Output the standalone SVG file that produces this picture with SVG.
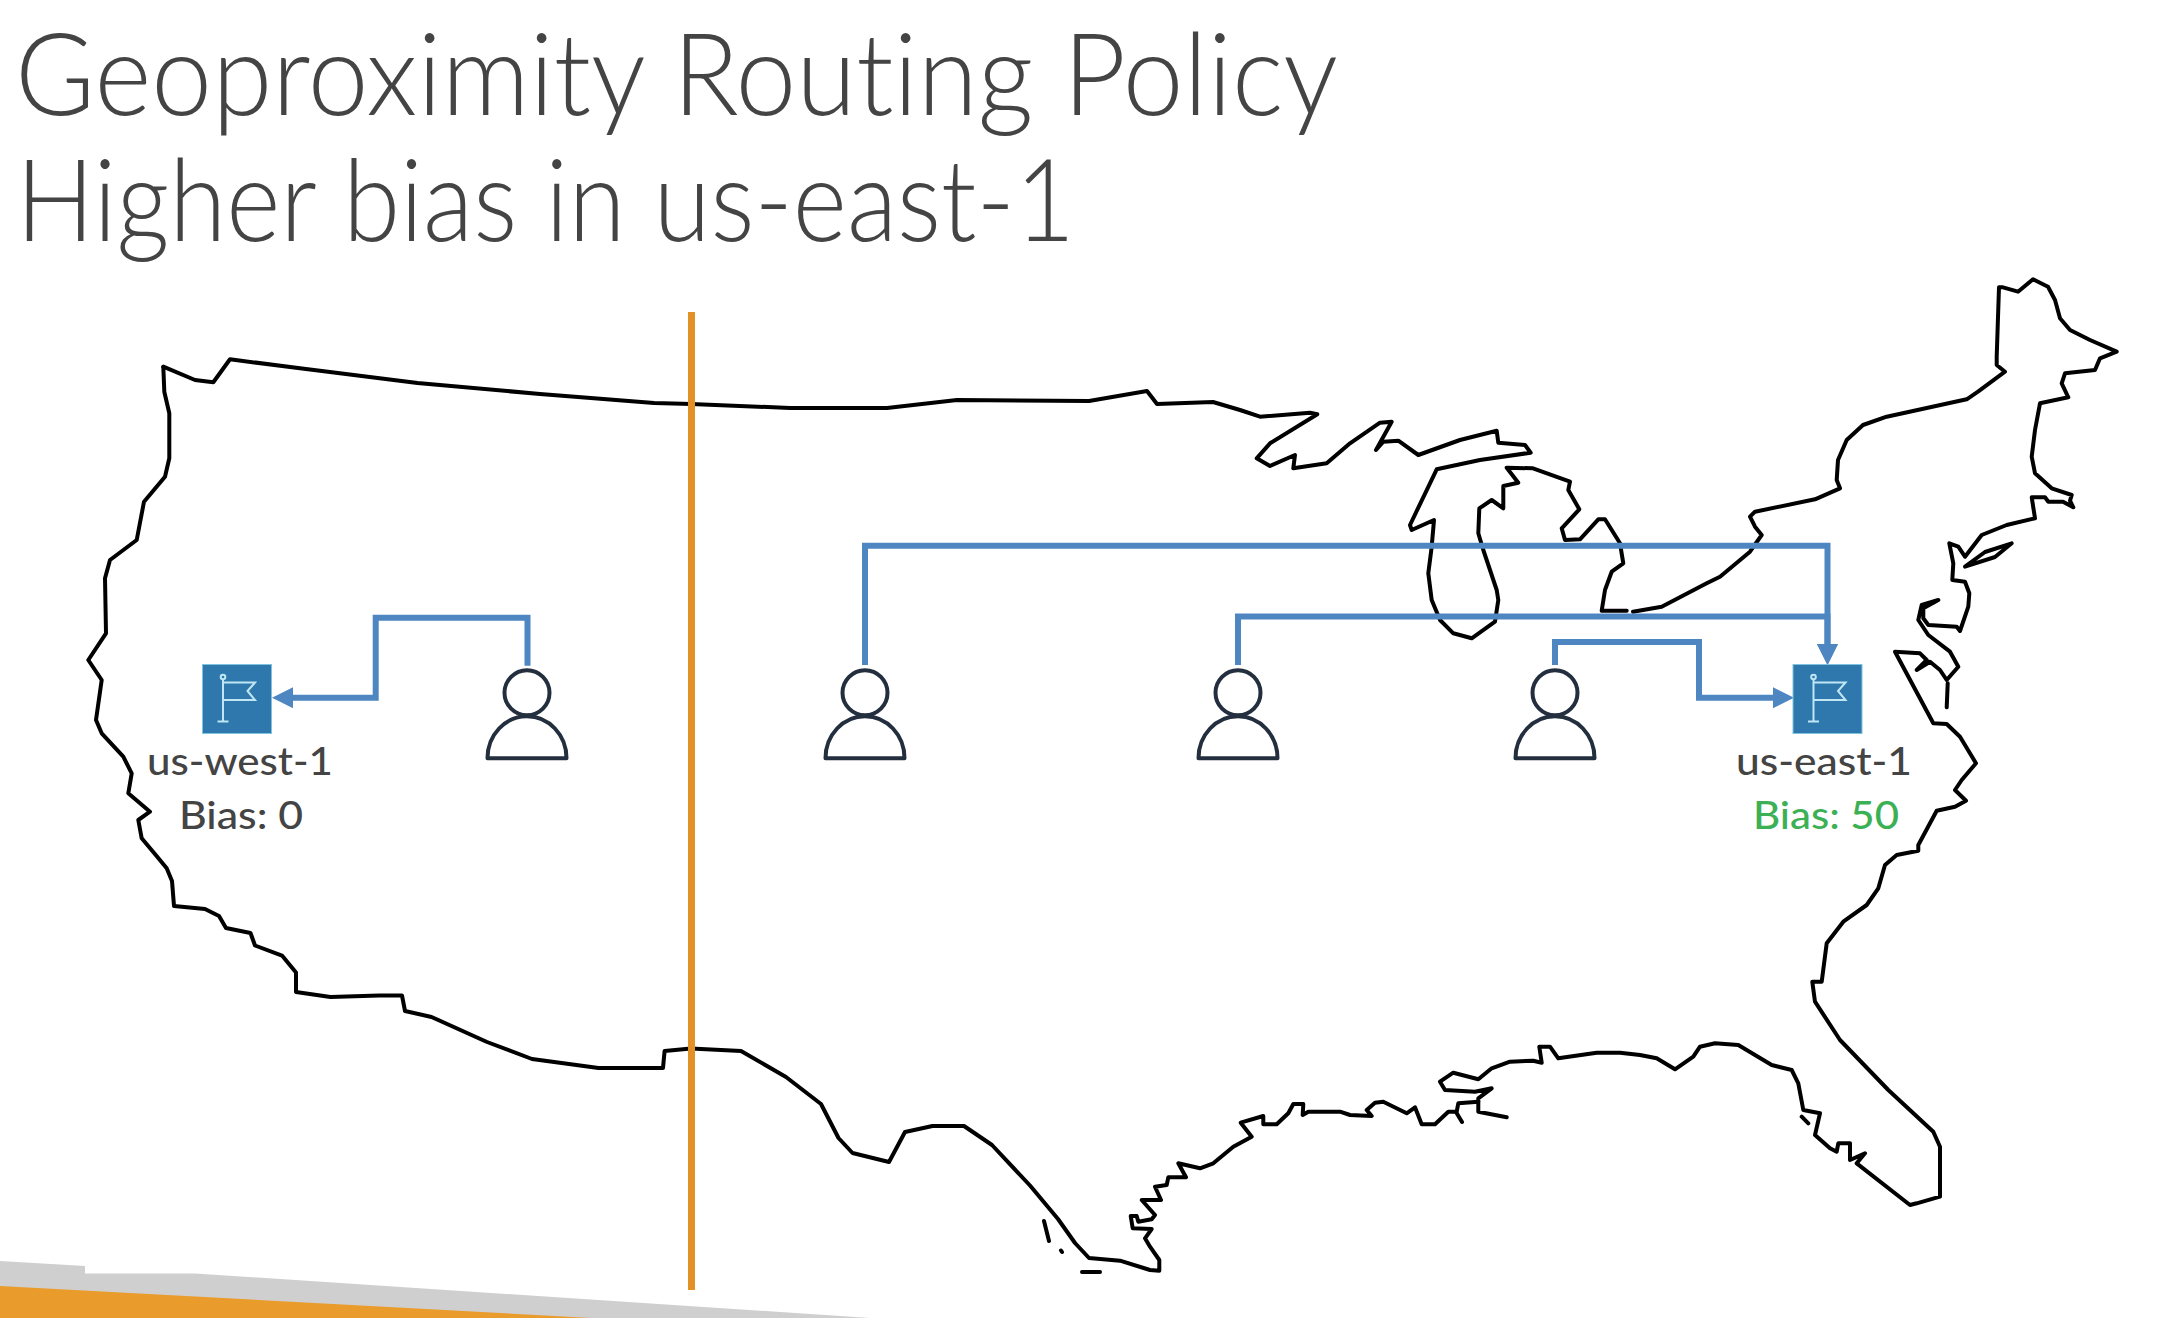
<svg xmlns="http://www.w3.org/2000/svg" width="2182" height="1318" viewBox="0 0 2182 1318">
<style>
.title{font-family:"Lato","Open Sans",sans-serif;font-weight:300;font-size:114px;fill:#444;font-variant-ligatures:none}
.lbl{font-family:"Lato","Open Sans",sans-serif;font-weight:500;font-size:38px;fill:#444;text-anchor:middle}
.green{fill:#3CB054}
.map{fill:none;stroke:#000;stroke-width:4;stroke-linejoin:round;stroke-linecap:round}
.conn{fill:none;stroke:#4E86C2;stroke-width:6;marker-end:url(#ah)}
.person{fill:none;stroke:#232F3E;stroke-width:4;stroke-linejoin:round}
.flag{fill:none;stroke:#BFE6F2;stroke-width:2}
</style>
<defs>
<marker id="ah" markerUnits="userSpaceOnUse" markerWidth="22" markerHeight="22" refX="0" refY="10.5" orient="auto"><path d="M0 0L21 10.5L0 21Z" fill="#4E86C2"/></marker>
<g id="person-shape"><circle cx="0" cy="27" r="22.500"/><path d="M-39.500 92.500A39.500 42 0 0 1 39.500 92.500Z"/></g>
<g id="icon-shape"><rect x="0.500" y="0.500" width="69" height="69" fill="#2E78AE" stroke="#7FC4DC" stroke-width="1"/><circle class="flag" cx="21" cy="13" r="2.300"/><path class="flag" d="M21 15.500V57.500M15.500 57.500H26.500M21 18.500H53L45.500 27L53 36H21"/></g>
</defs>
<rect width="2182" height="1318" fill="#fff"/>
<g id="footer">
<path d="M0 1261L85 1266V1273.400H195L870 1318H0Z" fill="#CFCFCF"/>
<path d="M0 1286L591 1318H0Z" fill="#E99C2C"/>
</g>
<g id="title">
<text class="title" x="15" y="115" textLength="1323" lengthAdjust="spacingAndGlyphs">Geoproximity Routing Policy</text>
<text class="title" x="16" y="240.700" textLength="1059" lengthAdjust="spacingAndGlyphs">Higher bias in us-east-1</text>
</g>
<g id="map">
<path class="map" d="M163.300 366.700L195 380L213.300 382.300L230 359.300L300 368.300L417.500 383L540 394L654 403L691 404L790 408L887 408L957 400L1089 401L1147 391L1157 404L1213 402L1240 410L1260 416.700L1310 412.700L1317.300 414.300L1270 443.300L1256.700 458.300L1270 466L1295 455L1293.300 468.300L1326.700 463.300L1350 443.300L1380 422.700L1391.700 421.700L1376 450L1383.300 441.700L1398.300 440.700L1418.300 455L1460 440L1496.700 430.700L1498.300 442.700L1525 445L1530.700 452.700L1480 460L1436.700 469.300L1410 525L1411.700 530L1434 520L1431.700 546.700L1428.300 573.300L1431.700 600L1440 620L1453.300 633.300L1471.700 638.300L1495 621.700L1498.300 600L1496.700 590L1483.300 550L1478.300 533.300L1479.300 508.300L1491.700 500L1503.300 508.300L1503.300 486L1518.300 482.700L1506.700 467.700L1533 468.300L1570 481.700L1568.300 490L1579.300 509.300L1561.700 528.300L1565 540L1580 539.300L1598.300 519.300L1605 519.300L1620 543.300L1623.300 563.300L1611.700 571.700L1605 590L1601.700 610.700L1626.700 610.700M1633 611.700L1661.700 606.700L1706.700 583.300L1720 576.700L1750 551.700L1761.700 535L1755 526.700L1750 516.700L1755 511.700L1815 499.300L1840 488.300L1836.700 480L1838 460L1846.700 440L1863 425L1886.700 416.700L1966.700 399.300L1978 391.700L2005 371.700L1996.700 365L1996.700 356.700L1999 287.300L2003 287.300L2018 291.700L2033 279.300L2048 286.700L2055 300L2060 318.300L2070 330L2090 340L2116.700 351.700L2100 358.300L2095 370L2065 373.300L2061.700 383.300L2068.300 397.300L2040 403.300L2035 430L2031.700 456.700L2035 473.300L2051.700 488.300L2071.700 495L2070 500.700L2073.300 507.300L2063 501.700L2048.300 501.700L2045 497.300L2031.700 497.300L2035 518.300L2006.700 525L1981.700 535L1965 556.700L1958.300 546.700L1949.300 543.300L1953.300 563.300L1952.300 580L1965 581.700L1969.300 593.300L1968.300 606.700L1960 631L1956.700 626.700L1928.300 625L1923.300 618.300L1923.300 608.300L1938.300 600L1921.700 605L1918.300 620L1928.300 635L1950 651.700L1958.300 666.700L1946.700 680L1940 670L1930 661.700L1916.700 670L1926.700 660L1920 653.300L1895 651.700L1933.300 723.300L1946.700 724L1960 736.700L1976 763.300L1961.700 780L1955 790L1966 800.700L1955 806.700L1936.700 810.700L1918.300 845L1918.300 850.700L1896.700 855L1885 865L1878.300 888.300L1866.700 905L1843.300 921.700L1826.700 943.300L1821.700 981.700L1812.300 981.700L1815 1001.700L1840 1040L1888.300 1090L1933.300 1131.700L1940 1146.700L1940 1196.700L1916.700 1203.300L1910 1205L1856.700 1163.300L1865 1153.300L1850 1160L1850 1143.300L1838.300 1143.300L1836.700 1151.700L1830 1148.300L1815 1135L1820 1113.300L1803.300 1110L1798.300 1083.300L1791.700 1070L1771.700 1065L1738.300 1045L1715 1043.300L1700 1046.700L1693.300 1056.700L1675 1069.300L1656.700 1058.300L1640 1055L1620 1052.700L1596.700 1052.700L1558.300 1058.300L1550 1046.700L1539.300 1046.700L1541.700 1062.700L1533.300 1060.700L1510 1061.700L1491.700 1068.300L1478.300 1079.300L1453.300 1072.700L1440 1081.700L1445 1090L1475 1091.700L1491.700 1088.300L1478.300 1098.300L1478.300 1111.700L1506.700 1117.300"/>
<path class="map" d="M1478.300 1101.700L1458.300 1103.300L1456.700 1111.700L1448.300 1111.700L1435 1124.300L1421.700 1124.300L1415 1107.300L1406.700 1113.300L1383.300 1101.700L1375 1102.700L1366.700 1110L1371.700 1116L1350 1115L1340 1111.700L1308.300 1111.700L1302.700 1115L1303.300 1104L1293.300 1104L1288.300 1113.300L1276.700 1124.300L1263.300 1124.300L1263.300 1116L1240.700 1122.700L1251.700 1136.700L1233.300 1146.700L1213.300 1163.300L1200 1168.300L1178.300 1163.300L1186 1177.300L1168.300 1177.300L1166.700 1185L1155 1186.700L1161 1200L1141.700 1200L1155 1215L1151.700 1219.300L1138.300 1221.700L1136.700 1216L1130.700 1216L1132.700 1228.300L1151.700 1229L1145 1238.300L1150 1246.700L1159.300 1260L1159.300 1270.700L1150 1270L1120 1260.700L1089 1258L1075 1243L1058 1219L1030 1185.500L992 1145L964 1126L932.500 1126L905 1132L889 1162L852.500 1153L838.500 1138L821 1104L786 1077L741 1051L691 1048.600L664.600 1051L663 1068L598.500 1068L532 1059L487 1042L431.500 1017L405 1011L402 995.500L379 995.500L330.500 997L296 992L296 972.600L282 955.600L255 945.500L250.500 933L226 928L219 916L205 909L174 906L172 881L166.700 868.300L156.600 856L141.700 838.300L138.300 820L150 811.700L128.300 793.300L131.700 773.300L123.300 756.700L101.700 733.300L96 720L101.700 680L88.300 660L106 633.300L105 578.300L110 560L136.700 540L144 501.700L165 476.700L169.300 458.300L169.300 413.300L164.300 391.700L163.300 366.700"/>
<path class="map" d="M1947.700 683.300L1946.700 707.300M1044 1221L1049 1241M1061 1250.500L1062 1252M1082 1272L1100 1272M1801.700 1116.700L1808.300 1123.300M1456 1112L1462 1122"/>
<path class="map" d="M1965 566.700L1985 552L2011.700 543.300L1995 557Z"/>
</g>
<path id="divider" d="M691.500 312V1290" fill="none" stroke="#E29126" stroke-width="7"/>
<g id="connectors">
<path class="conn" d="M527.500 665.700V617.700H375.700V697.700H293"/>
<path class="conn" d="M865 665V545.700H1827.500V644"/>
<path class="conn" d="M1238 665V616.600H1827.500V644"/>
<path class="conn" d="M1555 665V642H1699V697.700H1773"/>
</g>
<g id="node-user-1" class="person"><use href="#person-shape" x="527" y="665.700"/></g>
<g id="node-user-2" class="person"><use href="#person-shape" x="865" y="665.700"/></g>
<g id="node-user-3" class="person"><use href="#person-shape" x="1238" y="665.700"/></g>
<g id="node-user-4" class="person"><use href="#person-shape" x="1555" y="665.700"/></g>
<g id="node-us-west-1">
<use href="#icon-shape" x="202" y="664"/>
<text class="lbl" x="240" y="775" textLength="186" lengthAdjust="spacingAndGlyphs">us-west-1</text>
<text class="lbl" x="241" y="829" textLength="124" lengthAdjust="spacingAndGlyphs">Bias: 0</text>
</g>
<g id="node-us-east-1">
<use href="#icon-shape" x="1792.500" y="664"/>
<text class="lbl" x="1824" y="775" textLength="176" lengthAdjust="spacingAndGlyphs">us-east-1</text>
<text class="lbl green" x="1826" y="829" textLength="146" lengthAdjust="spacingAndGlyphs">Bias: 50</text>
</g>
</svg>
